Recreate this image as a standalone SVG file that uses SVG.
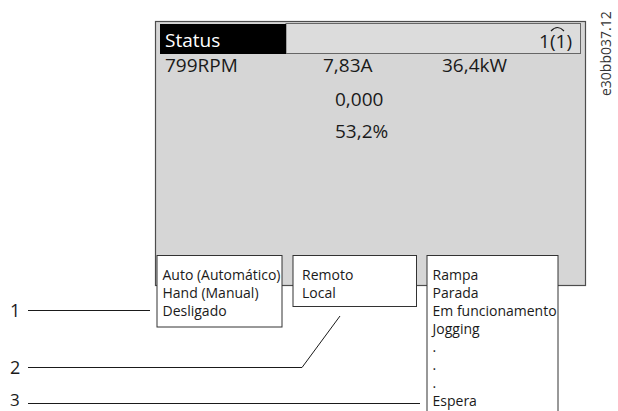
<svg xmlns="http://www.w3.org/2000/svg" width="618" height="411" viewBox="0 0 618 411">
  <style>
    .hdr { font-family: "Open Sans", "Noto Sans", sans-serif; font-size: 19px; fill: #1a1a1a; }
    .box { fill: #ffffff; stroke: #333333; stroke-width: 1; }
    .bt { font-family: "Open Sans", "Noto Sans", sans-serif; font-size: 14px; fill: #1a1a1a; }
    .num { font-family: "Open Sans", "Noto Sans", sans-serif; font-size: 18px; fill: #1a1a1a; }
    .ln { fill: none; stroke: #1a1a1a; stroke-width: 1; }
  </style>
  <rect width="618" height="411" fill="#ffffff"/>

  <g id="display">
    <rect x="155.5" y="21.5" width="430" height="264" fill="#d6d6d6" stroke="#4d4d4d" stroke-width="1.2"/>
    <rect x="286" y="23.5" width="294.5" height="30" fill="#dcdcdc" stroke="#666666" stroke-width="1"/>
    <rect x="160" y="24" width="126" height="30" fill="#000000"/>
    <text x="165" y="47" class="hdr" style="fill:#ffffff">Status</text>
    <text x="572" y="48" class="hdr" text-anchor="end">1(1)</text>
    <path d="M551 31 Q557.5 24 564 31" fill="none" stroke="#1a1a1a" stroke-width="1.2"/>
    <text x="165" y="72" class="hdr">799RPM</text>
    <text x="323" y="72" class="hdr">7,83A</text>
    <text x="442" y="72" class="hdr">36,4kW</text>
    <text x="335" y="106" class="hdr">0,000</text>
    <text x="335" y="138" class="hdr">53,2%</text>
  </g>

  <g id="mode-box">
    <rect x="157" y="255.5" width="125" height="71.5" class="box"/>
    <text x="162.5" y="280" class="bt">Auto (Automático)</text>
    <text x="162.5" y="298" class="bt">Hand (Manual)</text>
    <text x="162.5" y="316" class="bt">Desligado</text>
  </g>

  <g id="remote-box">
    <rect x="293" y="255.5" width="123.5" height="51" class="box"/>
    <text x="302" y="280" class="bt">Remoto</text>
    <text x="302" y="298" class="bt">Local</text>
  </g>

  <g id="state-box">
    <rect x="427" y="255.5" width="131" height="160" class="box"/>
    <text x="432.5" y="280" class="bt">Rampa</text>
    <text x="432.5" y="298" class="bt">Parada</text>
    <text x="432.5" y="316" class="bt">Em funcionamento</text>
    <text x="432.5" y="334" class="bt">Jogging</text>
    <text x="432.5" y="352" class="bt">.</text>
    <text x="432.5" y="370" class="bt">.</text>
    <text x="432.5" y="388" class="bt">.</text>
    <text x="432.5" y="406" class="bt">Espera</text>
  </g>

  <g id="connectors">
    <path class="ln" d="M28 310.5 H150"/>
    <path class="ln" d="M28 367.5 H302 L340 316"/>
    <path class="ln" d="M28 403.5 H420"/>
  </g>

  <g id="callout-labels">
    <text x="10" y="317" class="num">1</text>
    <text x="10" y="374" class="num">2</text>
    <text x="10" y="406" style="font-family: 'Open Sans', 'Noto Sans', sans-serif; font-size: 17px; fill: #1a1a1a;">3</text>
  </g>

  <g id="drawing-id">
    <text transform="translate(611 96) rotate(-90)" style="font-family: 'Open Sans', 'Noto Sans', sans-serif; font-size: 14px; fill: #333333;">e30bb037.12</text>
  </g>
</svg>
